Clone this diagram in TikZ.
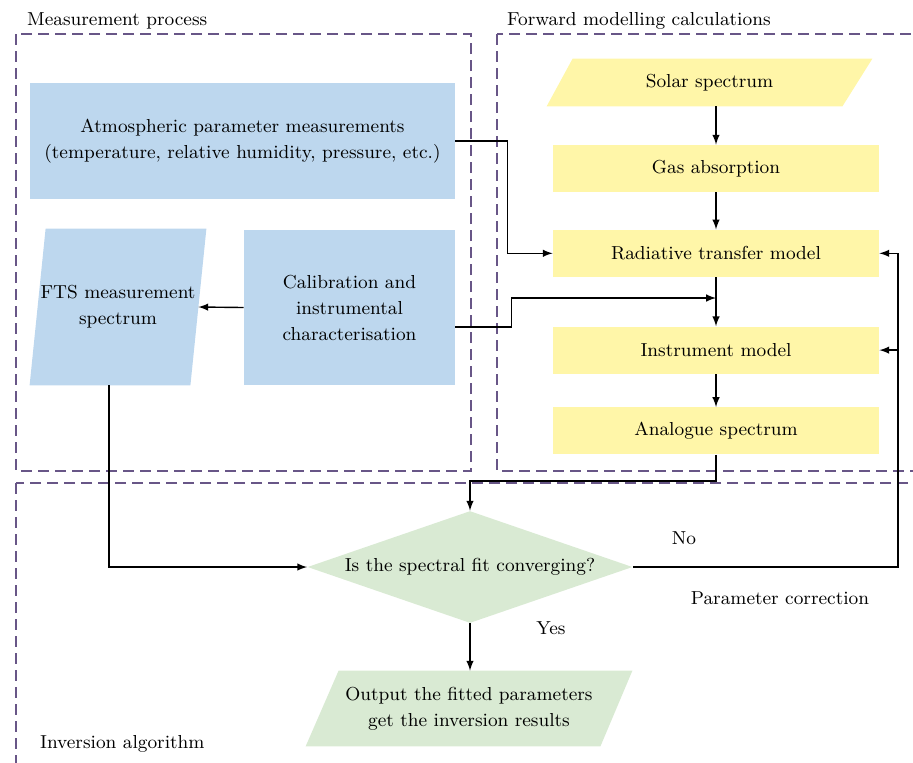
\documentclass[tikz,border=0pt]{standalone}
\usepackage{fontspec}
\usetikzlibrary{shapes,arrows,positioning,backgrounds}
\definecolor{measurecolor}{RGB}{189,215,238}
\definecolor{modelcolor}{RGB}{255,246,168}
\definecolor{inversecolor}{RGB}{217,234,211}
\definecolor{regioncolor}{RGB}{104,86,135}

\begin{document}
\begin{tikzpicture}[
    x=0.5pt, y=-0.5pt,
    every node/.style={font=\fontsize{9.4}{13}\selectfont},
    measurebox/.style={rectangle, fill=measurecolor, align=center, inner sep=2pt},
    slantbox/.style={rectangle, align=center, inner sep=2pt},
    modelbox/.style={rectangle, fill=modelcolor, minimum width=163pt, minimum height=23.5pt, align=center},
    decisionnode/.style={diamond, fill=inversecolor, aspect=2.9, minimum width=162.5pt, minimum height=56pt, inner sep=1pt, align=center},
    region/.style={draw=regioncolor, line width=0.9pt, dash pattern=on 5.5pt off 3pt},
    arrow/.style={->, >=latex, line width=0.7pt}
]
\clip (0,0) rectangle (913,762);

% Dashed regions
\draw[region] (16,34) rectangle (471,471);
\draw[region] (497,34) rectangle (930,471);
\draw[region] (16,483) rectangle (930,780);
\node[anchor=west] (meas-label) at (20,21) {Measurement process};
\node[anchor=west] (fwd-label) at (500,21) {Forward modelling calculations};
\node[anchor=west] (inv-label) at (33,744) {Inversion algorithm};

% Measurement process
\node[measurebox, minimum width=212.5pt, minimum height=58pt] (atm) at (242.5,141) {
    Atmospheric parameter measurements \\
    (temperature, relative humidity, pressure, etc.)
};
\node[slantbox, minimum width=88pt, minimum height=78pt] (fts) at (118,307) {
    FTS measurement \\
    spectrum
};
\node[measurebox, minimum width=105.5pt, minimum height=77.5pt] (calib) at (349.5,307.5) {
    Calibration and \\
    instrumental \\
    characterisation
};

% Forward modelling calculations
\node[slantbox, minimum width=162.5pt, minimum height=23.5pt] (solar) at (709.5,82.5) {Solar spectrum};
\node[modelbox] (gas) at (716,168.5) {Gas absorption};
\node[modelbox, below=18.5pt of gas] (rad) {Radiative transfer model};
\node[modelbox, below=24.5pt of rad] (instr) {Instrument model};
\node[modelbox, below=16.5pt of instr] (anal) {Analogue spectrum};
\coordinate (merge) at (716,298);

% Inversion algorithm
\node[decisionnode] (fit) at (470,567) {Is the spectral fit converging?};
\node[slantbox, minimum width=163pt, minimum height=37.5pt] (out) at (469,708.5) {
    Output the fitted parameters \\
    get the inversion results
};
\coordinate (back) at (898,567);

% Parallelogram fills behind the slanted nodes
\begin{scope}[on background layer]
    \fill[measurecolor] (fts.south west) -- ([xshift=-8pt]fts.south east) -- (fts.north east) -- ([xshift=8pt]fts.north west) -- cycle;
    \fill[modelcolor] (solar.south west) -- ([xshift=-15pt]solar.south east) -- (solar.north east) -- ([xshift=13pt]solar.north west) -- cycle;
    \fill[inversecolor] (out.south west) -- ([xshift=-16pt]out.south east) -- (out.north east) -- ([xshift=16.5pt]out.north west) -- cycle;
\end{scope}

% Arrows
\draw[arrow] (gas.north |- solar.south) -- (gas.north);
\draw[arrow] (gas) -- (rad);
\draw[arrow] (rad) -- (instr);
\draw[arrow] (instr) -- (anal);
\draw[arrow] (atm.east) -- ++(52,0) |- (rad.west);
\draw[arrow] ([yshift=-9.75pt]calib.east) -- ++(56,0) |- (merge);
\draw[arrow] (calib.west) -- ([xshift=-4pt]fts.east);
\draw[arrow] ([xshift=-4.5pt]fts.south) |- (fit.west);
\draw[arrow] (anal.south) -- ++(0,26) -| (fit.north);
\draw[arrow] (fit.east) -- (back) |- (rad.east);
\draw[arrow] (back |- instr.east) -- (instr.east);
\draw[arrow] (fit.south) -- (fit.south |- out.north);

% Branch labels
\node (no) at (684,538) {No};
\node (correction) at (780,598) {Parameter correction};
\node (yes) at (551,628) {Yes};

\end{tikzpicture}
\end{document}
